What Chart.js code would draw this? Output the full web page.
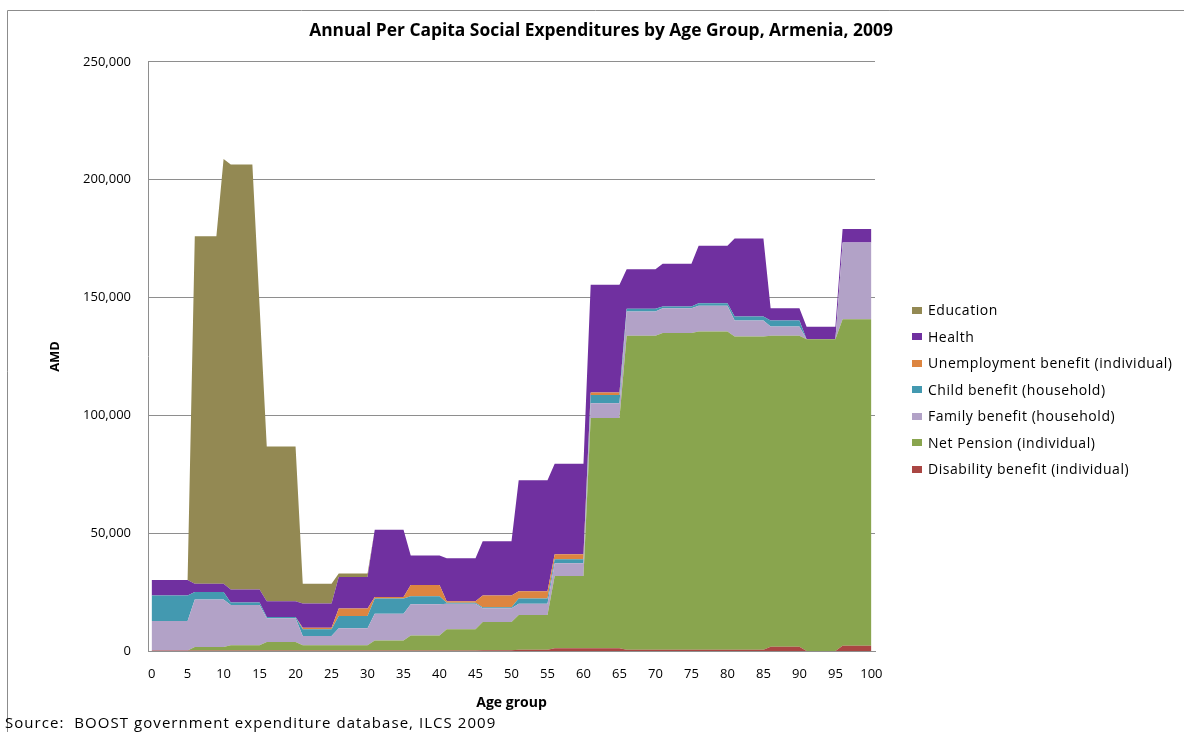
<!DOCTYPE html>
<html lang="en">
<head>
<meta charset="UTF-8">
<title>Annual Per Capita Social Expenditures by Age Group, Armenia, 2009</title>
<script src="https://cdn.jsdelivr.net/npm/chart.js"></script>
<style>
  html, body { margin: 0; padding: 0; background: #fff; }
  #wrap { position: relative; width: 1184px; height: 732px; font-family: 'Open Sans', sans-serif; color: #000; }
  #legend { position: absolute; left: 912px; top: 297px; }
  #legend div { height: 26.5px; line-height: 26.5px; font-size: 14px; letter-spacing: 0.55px; white-space: nowrap; }
  #legend span.sw { display: inline-block; width: 10px; height: 7px; margin-right: 6px; vertical-align: middle; position: relative; top: -1px; }
  #source { position: absolute; left: 5px; top: 713px; font-size: 15px; line-height: 18px; letter-spacing: 1.05px; white-space: nowrap; }
</style>
</head>
<body>
<div id="wrap">
  <canvas id="expChart"></canvas>
  <div id="legend"></div>
  <div id="source">Source:&nbsp; BOOST government expenditure database, ILCS 2009</div>
</div>
<script>
// ages (years) at which the per capita values change
const ages = [0,5, 6,9,10, 11,14,15, 16,20, 21,25, 26,30, 31,35, 36,40, 41,45, 46,50, 51,55, 56,60, 61,65, 66,70, 71,75, 76,80, 81,85, 86,90, 91,95, 96,100];
const xTicks = [0,5,10,15,20,25,30,35,40,45,50,55,60,65,70,75,80,85,90,95,100];

// AMD per capita, stacked bottom to top
const disability   = [200,200, 200,200,200, 200,200,200, 200,200, 200,200, 200,200, 200,200, 200,200, 200,200, 300,300, 500,500, 1200,1200, 1200,1200, 500,500, 500,500, 500,500, 500,500, 1800,1800, 0,0, 2200,2200];
const netPension   = [0,0, 1500,1500,1500, 2200,2200,2200, 3600,3600, 2200,2200, 2200,2200, 4300,4300, 6400,6400, 9000,9000, 12000,12000, 14800,14800, 30600,30600, 97700,97700, 133300,133300, 134400,134400, 135100,135100, 133000,133000, 132000,132000, 132300,132300, 138600,138600];
const family       = [12500,12500, 20200,20200,20200, 17100,17100,17100, 10100,10100, 4000,4000, 7300,7300, 11300,11300, 13200,13200, 10800,10800, 5800,5800, 4700,4700, 5400,5400, 6200,6200, 10300,10300, 10600,10600, 10900,10900, 6800,6800, 3900,3900, 0,0, 32600,32600];
const child        = [10900,10900, 3100,3100,3100, 1100,1100,1100, 500,500, 2800,2800, 5100,5100, 6500,6500, 3400,3400, 500,500, 500,500, 2300,2300, 1700,1700, 3500,3500, 1100,1100, 700,700, 1100,1100, 1600,1600, 2600,2600, 0,0, 0,0];
const unemployment = [0,0, 0,0,0, 0,0,0, 0,0, 700,700, 3200,3200, 600,600, 4800,4800, 600,600, 5000,5000, 3100,3100, 2200,2200, 1100,1100, 0,0, 0,0, 0,0, 0,0, 0,0, 0,0, 0,0];
const health       = [6500,6500, 3500,3500,3500, 5500,5500,5500, 6700,6700, 10300,10300, 13400,13400, 28600,28600, 12500,12500, 18300,18300, 23000,23000, 47100,47100, 38400,38400, 45700,45700, 16800,16800, 18100,18100, 24400,24400, 33200,33200, 5200,5200, 5300,5300, 5700,5700];
const education    = [0,0, 147500,147500,180300, 180400,180400,120400, 65700,65700, 8300,8300, 1500,1500, 0,0, 0,0, 0,0, 0,0, 0,0, 0,0, 0,0, 0,0, 0,0, 0,0, 0,0, 0,0, 0,0, 0,0];

const FONT = "'Open Sans', sans-serif";
const GRID = '#8e8e8e';

function area(label, data, color, fill) {
  return { label, data, backgroundColor: color, borderColor: color, borderWidth: 0, fill, pointRadius: 0, tension: 0 };
}

// outer chart-area frame like the spreadsheet export
const chartFrame = {
  id: 'chartFrame',
  beforeDraw(chart) {
    const c = chart.ctx;
    c.save();
    c.strokeStyle = '#8c8c8c';
    c.lineWidth = 1;
    c.beginPath();
    c.moveTo(7.5, chart.height);
    c.lineTo(7.5, 10.5);
    c.lineTo(chart.width, 10.5);
    c.stroke();
    c.restore();
  }
};

// html legend, top series first
const htmlLegend = {
  id: 'htmlLegend',
  afterUpdate(chart) {
    const box = document.getElementById('legend');
    box.innerHTML = '';
    const items = chart.options.plugins.legend.labels.generateLabels(chart).reverse();
    items.forEach(item => {
      const row = document.createElement('div');
      const sw = document.createElement('span');
      sw.className = 'sw';
      sw.style.background = item.fillStyle;
      row.appendChild(sw);
      row.appendChild(document.createTextNode(item.text));
      box.appendChild(row);
    });
  }
};

const ctx = document.getElementById('expChart').getContext('2d');
const expChart = new Chart(ctx, {
  type: 'line',
  data: {
    labels: ages,
    datasets: [
      area('Disability benefit (individual)', disability, '#AA4643', 'origin'),
      area('Net Pension (individual)', netPension, '#89A54E', '-1'),
      area('Family benefit (household)', family, '#B2A2C7', '-1'),
      area('Child benefit (household)', child, '#4399B0', '-1'),
      area('Unemployment benefit (individual)', unemployment, '#DD8540', '-1'),
      area('Health', health, '#7030A0', '-1'),
      area('Education', education, '#938953', '-1')
    ]
  },
  options: {
    responsive: true,
    maintainAspectRatio: false,
    animation: false,
    layout: { padding: { left: 18, right: 0, top: 0, bottom: 19 } },
    scales: {
      x: {
        type: 'linear',
        min: -0.5,
        max: 100.5,
        afterBuildTicks: s => { s.ticks = xTicks.map(v => ({ value: v })); },
        afterFit: s => { s.height = 62; },
        grid: { display: false, drawTicks: false },
        border: { color: GRID },
        ticks: { padding: 15, maxRotation: 0, autoSkip: false, color: '#000', font: { family: FONT, size: 13 } },
        title: { display: true, text: 'Age group', color: '#000', font: { family: FONT, size: 14, weight: 'bold' }, padding: { top: 12, bottom: 2 } }
      },
      y: {
        stacked: true,
        min: 0,
        max: 250000,
        afterFit: s => { s.width = 130; },
        grid: { color: GRID, drawTicks: false },
        border: { color: GRID },
        ticks: { stepSize: 50000, padding: 17, color: '#000', font: { family: FONT, size: 13 }, callback: v => v.toLocaleString('en-US') },
        title: { display: true, text: 'AMD', color: '#000', font: { family: FONT, size: 13, weight: 'bold' }, padding: { top: 29, bottom: 0 } }
      },
      // empty right-hand space where the legend sits
      gap: {
        position: 'right',
        display: true,
        afterFit: s => { s.width = 309; },
        grid: { display: false },
        border: { display: false },
        ticks: { display: false }
      }
    },
    plugins: {
      title: {
        display: true,
        text: 'Annual Per Capita Social Expenditures by Age Group, Armenia, 2009',
        color: '#000',
        font: { family: FONT, size: 17.4, weight: 'bold' },
        padding: { top: 21, bottom: 20 }
      },
      legend: { display: false },
      tooltip: { enabled: false }
    }
  },
  plugins: [chartFrame, htmlLegend]
});
</script>
</body>
</html>
